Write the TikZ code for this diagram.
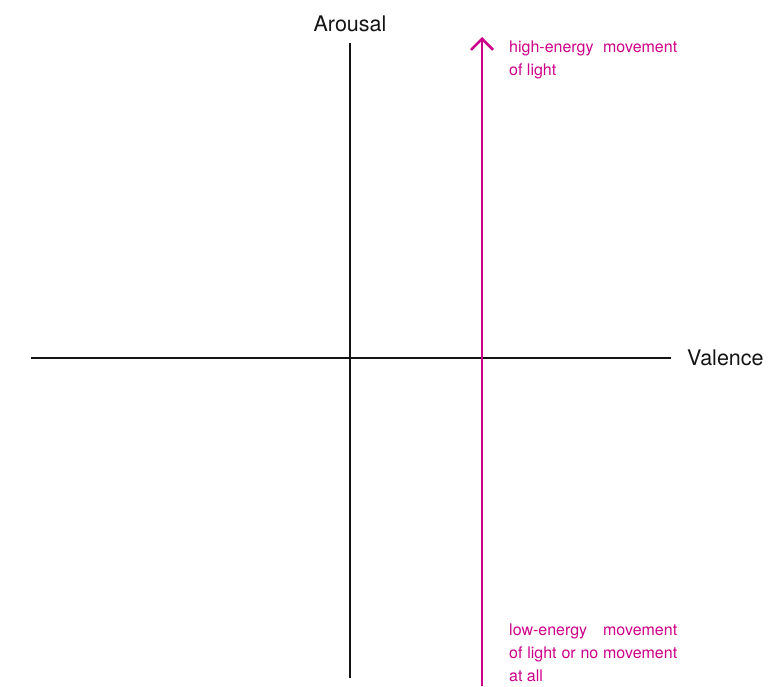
\documentclass[tikz,border=0pt]{standalone}
\usepackage{fontspec}
\setmainfont{TeX Gyre Heros}
\usepackage{xcolor}
\usepackage{tikz}
\usetikzlibrary{arrows.meta, positioning}
\definecolor{energy}{RGB}{204,0,136}
\definecolor{ink}{RGB}{20,20,20}
\tikzset{
    axisline/.style={draw=ink, line width=2pt},
    axislabel/.style={text=ink, inner sep=0pt, font=\fontsize{21.5}{26}\selectfont},
    energyline/.style={draw=energy, line width=2.5pt, -{Straight Barb[length=11pt, width=22pt]}},
    note/.style={text=energy, inner sep=0pt, text width=168pt, align=justify, font=\fontsize{16}{23}\selectfont\sloppy}
}
\begin{document}
\begin{tikzpicture}[x=1pt, y=-1pt]
    \useasboundingbox (0,0) rectangle (776,686);

    % Axes
    \coordinate (vtop) at (350,43);
    \coordinate (vbot) at (350,678);
    \coordinate (hleft) at (31,358);
    \coordinate (hright) at (671,358);
    \draw[axisline] (hleft) -- (hright);
    \draw[axisline] (vbot) -- (vtop);

    % Axis labels
    \node[axislabel, above=11pt of vtop] (arousal) {Arousal};
    \node[axislabel, right=16pt of hright] (valence) {Valence};

    % Energy arrow
    \coordinate (ptop) at (482,37);
    \coordinate (pbot) at (482,686);
    \draw[energyline] (pbot) -- (ptop);

    % Notes
    \node[note, below right=3.5pt and 27pt of ptop] (high) {high-energy movement of light};
    \node[note, above right=4pt and 27pt of pbot] (low) {low-energy movement of light or no movement at all};
\end{tikzpicture}
\end{document}
